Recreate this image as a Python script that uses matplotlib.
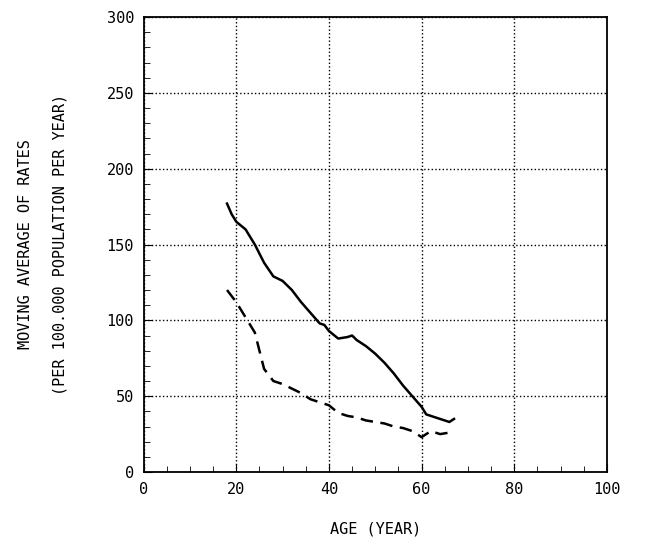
import matplotlib
matplotlib.use("Agg")
import matplotlib.pyplot as plt
from matplotlib.ticker import MultipleLocator

age_solid = [18,19,20,22,24,26,28,30,32,34,36,38,39,40,42,44,45,46,48,50,52,54,56,58,60,61,63,65,66,67]
rate_solid = [177,170,165,160,150,138,129,126,120,112,105,98,97,93,88,89,90,87,83,78,72,65,57,50,43,38,36,34,33,35]
age_dash = [18,20,22,24,25,26,28,30,32,34,36,38,40,42,44,46,48,50,52,54,56,58,60,61,62,64,66,67]
rate_dash = [120,112,102,92,80,68,60,58,55,52,48,46,44,39,37,36,34,33,32,30,29,27,23,25,27,25,26,25]

plt.rcParams['font.family'] = ['DejaVu Sans Mono']
fig = plt.figure(figsize=(6.47,5.41), dpi=100)
ax = fig.add_axes([0.222,0.1275,0.716,0.841])
ax.plot(age_solid, rate_solid, 'k-', lw=1.8)
ax.plot(age_dash, rate_dash, 'k--', lw=1.8, dashes=(5,3))
ax.set_xlim(0,100); ax.set_ylim(0,300)
ax.set_xticks(range(0,101,20)); ax.set_yticks(range(0,301,50))
ax.xaxis.set_minor_locator(MultipleLocator(5))
ax.yaxis.set_minor_locator(MultipleLocator(10))
ax.grid(True, which='major', color='k', linestyle=':', lw=1)
ax.tick_params(which='both', direction='in', labelsize=11, color='k')
ax.tick_params(which='major', length=6, pad=7)
ax.tick_params(which='minor', length=4)
for s in ax.spines.values(): s.set_linewidth(1.3)
fig.text(0.5*(0.222+0.938), 0.022, 'AGE (YEAR)', fontsize=11, ha='center', va='center')
fig.text(0.066, 0.5*(0.1275+0.9685), 'MOVING AVERAGE OF RATES\n(PER 100.000 POPULATION PER YEAR)',
         fontsize=11, linespacing=2.6, rotation=90, ha='center', va='center', multialignment='center')
fig.savefig('out.png', dpi=100)
